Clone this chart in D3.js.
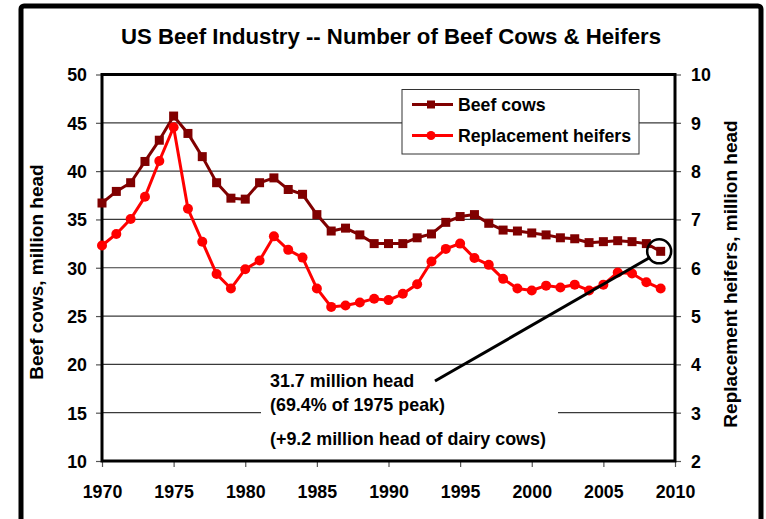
<!DOCTYPE html>
<html>
<head>
<meta charset="utf-8">
<script src="https://cdn.jsdelivr.net/npm/d3@7"></script>
<style>
  html, body { margin: 0; padding: 0; background: #fff; }
  svg text { font-family: "Liberation Sans", Arial, sans-serif; font-weight: bold; fill: #000; }
</style>
</head>
<body>
<svg id="chart" width="766" height="519"></svg>
<script>
// Jan 1 inventory, 1970-2009
const years = d3.range(1970, 2010);
const beefCows = [36.7, 37.9, 38.8, 41.0, 43.2, 45.7, 43.9, 41.5, 38.8, 37.2,
                  37.1, 38.8, 39.3, 38.1, 37.6, 35.5, 33.8, 34.1, 33.4, 32.5,
                  32.5, 32.5, 33.1, 33.5, 34.7, 35.3, 35.5, 34.6, 33.9, 33.8,
                  33.6, 33.4, 33.1, 33.0, 32.6, 32.7, 32.8, 32.7, 32.5, 31.7];
const heifers = [6.46, 6.70, 7.01, 7.47, 8.21, 8.91, 7.22, 6.54, 5.87, 5.57,
                 5.97, 6.15, 6.65, 6.37, 6.21, 5.57, 5.19, 5.22, 5.28, 5.36,
                 5.33, 5.46, 5.66, 6.13, 6.39, 6.50, 6.20, 6.06, 5.77, 5.57,
                 5.53, 5.63, 5.59, 5.65, 5.53, 5.65, 5.90, 5.88, 5.70, 5.57];
const xTicks = [1970, 1975, 1980, 1985, 1990, 1995, 2000, 2005, 2010];
const leftTicks = [10, 15, 20, 25, 30, 35, 40, 45, 50];
const rightTicks = [2, 3, 4, 5, 6, 7, 8, 9, 10];
const seriesNames = ["Beef cows", "Replacement heifers"];
const dairyCows = 9.2;

const svg = d3.select("#chart");
const plotL = 102, plotR = 675, plotT = 74.5, plotB = 461;

const x = d3.scaleLinear().domain([1970, 2010]).range([plotL, plotR]);
const yL = d3.scaleLinear().domain([10, 50]).range([plotB, plotT]);
const yR = d3.scaleLinear().domain([2, 10]).range([plotB, plotT]);

// outer frame
svg.append("rect").attr("x", 21).attr("y", 6).attr("width", 740).attr("height", 540)
  .attr("rx", 3).attr("fill", "#fff").attr("stroke", "#000").attr("stroke-width", 5);

// title
svg.append("text").attr("x", 391).attr("y", 44).attr("text-anchor", "middle")
  .style("font-size", "22.2px").text("US Beef Industry -- Number of Beef Cows & Heifers");

// gridlines
svg.append("g").selectAll("line").data(leftTicks.slice(1, -1)).join("line")
  .attr("x1", plotL).attr("x2", plotR)
  .attr("y1", d => yL(d)).attr("y2", d => yL(d))
  .attr("stroke", "#3a3a3a").attr("stroke-width", 1.2);

// axes
const axL = d3.axisLeft(yL).tickValues(leftTicks).tickSize(6).tickPadding(9);
const axR = d3.axisRight(yR).tickValues(rightTicks).tickSize(6).tickPadding(10);
const axB = d3.axisBottom(x).tickValues(xTicks).tickFormat(d3.format("d")).tickSize(6).tickPadding(18);

function styleAxis(g) {
  g.select(".domain").remove();
  g.selectAll(".tick line").attr("stroke", "#555").attr("stroke-width", 1.2);
  g.selectAll(".tick text").style("font-size", "17.8px").attr("font-family", null);
}
svg.append("g").attr("transform", `translate(${plotL},0)`).call(axL).call(styleAxis)
  .selectAll(".tick text").attr("dy", "0.36em");
svg.append("g").attr("transform", `translate(${plotR},0)`).call(axR).call(styleAxis)
  .selectAll(".tick text").attr("dy", "0.36em");
svg.append("g").attr("transform", `translate(0,${plotB})`).call(axB).call(styleAxis);

// plot border
svg.append("rect").attr("x", plotL).attr("y", plotT)
  .attr("width", plotR - plotL).attr("height", plotB - plotT)
  .attr("fill", "none").attr("stroke", "#000").attr("stroke-width", 3);

// axis titles
svg.append("text").attr("transform", `translate(43,272) rotate(-90)`)
  .attr("text-anchor", "middle").style("font-size", "19px").text("Beef cows, million head");
svg.append("text").attr("transform", `translate(737,274) rotate(-90)`)
  .attr("text-anchor", "middle").style("font-size", "19px").text("Replacement heifers, million head");

// annotation box
const note = svg.append("g");
note.append("rect").attr("x", 261).attr("y", 368).attr("width", 297).attr("height", 86).attr("fill", "#fff");
const last = beefCows[beefCows.length - 1];
const peak = d3.max(beefCows);
const peakYear = years[beefCows.indexOf(peak)];
note.append("text").attr("x", 270).attr("y", 387).style("font-size", "17.9px")
  .text(`${last.toFixed(1)} million head`);
note.append("text").attr("x", 270).attr("y", 411).style("font-size", "17.9px")
  .text(`(${(last / peak * 100).toFixed(1)}% of ${peakYear} peak)`);
note.append("text").attr("x", 270).attr("y", 445).style("font-size", "17.9px")
  .text(`(+${dairyCows.toFixed(1)} million head of dairy cows)`);

// series lines
const lineL = d3.line().x((d, i) => x(years[i])).y(d => yL(d));
const lineR = d3.line().x((d, i) => x(years[i])).y(d => yR(d));
svg.append("path").datum(beefCows).attr("d", lineL)
  .attr("fill", "none").attr("stroke", "#800000").attr("stroke-width", 3);
svg.append("path").datum(heifers).attr("d", lineR)
  .attr("fill", "none").attr("stroke", "#ff0000").attr("stroke-width", 3);

svg.append("g").selectAll("rect").data(beefCows).join("rect")
  .attr("x", (d, i) => x(years[i]) - 4.5).attr("y", d => yL(d) - 4.5)
  .attr("width", 9).attr("height", 9).attr("fill", "#800000");
svg.append("g").selectAll("circle").data(heifers).join("circle")
  .attr("cx", (d, i) => x(years[i])).attr("cy", d => yR(d))
  .attr("r", 5).attr("fill", "#ff0000");

// callout to the latest beef cow figure
const lx = x(years[years.length - 1]), ly = yL(last);
const rad = 12;
const sx = 435, sy = 381;
const ang = Math.atan2(sy - ly, sx - lx);
svg.append("line").attr("x1", sx).attr("y1", sy)
  .attr("x2", lx + rad * Math.cos(ang)).attr("y2", ly + rad * Math.sin(ang))
  .attr("stroke", "#000").attr("stroke-width", 3);
svg.append("circle").attr("cx", lx - 1.5).attr("cy", ly).attr("r", rad)
  .attr("fill", "none").attr("stroke", "#000").attr("stroke-width", 2.5);

// legend
const lg = svg.append("g");
lg.append("rect").attr("x", 402).attr("y", 89.5).attr("width", 237).attr("height", 64.5)
  .attr("fill", "#fff").attr("stroke", "#333").attr("stroke-width", 1);
const legendRows = [
  { name: seriesNames[0], color: "#800000", shape: "square", y: 104.5 },
  { name: seriesNames[1], color: "#ff0000", shape: "circle", y: 135.5 }
];
legendRows.forEach(row => {
  lg.append("line").attr("x1", 412).attr("x2", 453).attr("y1", row.y).attr("y2", row.y)
    .attr("stroke", row.color).attr("stroke-width", 3);
  if (row.shape === "square") {
    lg.append("rect").attr("x", 431 - 4).attr("y", row.y - 4).attr("width", 8).attr("height", 8)
      .attr("fill", row.color);
  } else {
    lg.append("circle").attr("cx", 431).attr("cy", row.y).attr("r", 4.5).attr("fill", row.color);
  }
  lg.append("text").attr("x", 458).attr("y", row.y + 6).style("font-size", "17.7px").text(row.name);
});
</script>
</body>
</html>
